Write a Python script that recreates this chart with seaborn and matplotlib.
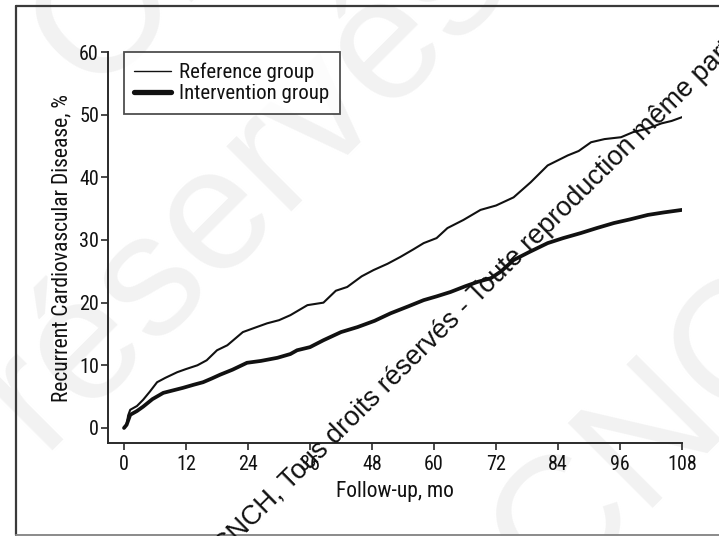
import matplotlib
matplotlib.use("Agg")
import matplotlib.pyplot as plt
import seaborn as sns
import pandas as pd
from matplotlib.lines import Line2D
from matplotlib import font_manager as fm

# ---- data ----
ref_months = [0, 0.5, 0.8, 1.2, 2.5, 3.7, 5, 6.4, 8, 10.3, 12, 14.2, 16, 18, 20, 23, 25,
              27.7, 30, 32.2, 35.5, 38.6, 41, 43.2, 46, 48.3, 51, 53.5, 56, 58, 60.5, 62.6,
              65.7, 69, 72, 75.4, 78.7, 82, 85.9, 88, 90.4, 93, 96.2, 98.5, 101.4, 104, 106, 108]
ref_values = [0, 0.5, 2.0, 2.9, 3.5, 4.5, 5.8, 7.3, 8.0, 8.9, 9.4, 10.0, 10.8, 12.4, 13.2, 15.3,
              15.9, 16.7, 17.2, 18.0, 19.6, 20.0, 21.9, 22.5, 24.2, 25.2, 26.2, 27.3, 28.5, 29.5,
              30.3, 31.9, 33.2, 34.8, 35.5, 36.8, 39.2, 41.9, 43.5, 44.2, 45.6, 46.1, 46.4, 47.2,
              47.8, 48.6, 49.0, 49.6]
int_months = [0, 0.5, 1.2, 2.5, 3.7, 5.5, 7.6, 9.5, 11.4, 13.5, 15.3, 17, 18.6, 21, 23.8, 26.5,
              29.7, 32.2, 33.5, 36, 38.6, 42, 45.2, 48.5, 51.6, 55, 58, 60.5, 63.2, 66, 68.4, 71,
              73, 75.4, 78.5, 82, 85, 88.4, 91.5, 94.8, 98, 101.4, 104.5, 108]
int_values = [0, 0.5, 2.1, 2.7, 3.4, 4.6, 5.6, 6.0, 6.4, 6.9, 7.3, 7.9, 8.5, 9.3, 10.4, 10.7,
              11.2, 11.8, 12.4, 12.9, 14.0, 15.3, 16.1, 17.1, 18.3, 19.4, 20.4, 21.0, 21.7, 22.6,
              23.3, 23.9, 25.0, 26.8, 28.1, 29.5, 30.3, 31.1, 31.9, 32.7, 33.3, 34.0, 34.4, 34.8]
group_labels = ["Reference group", "Intervention group"]
x_ticks = [0, 12, 24, 36, 48, 60, 72, 84, 96, 108]
y_ticks = [0, 10, 20, 30, 40, 50, 60]

sns.set_theme(style="white")

# pick a condensed sans-serif if one is installed
fonts = fm.fontManager.ttflist
names = {f.name for f in fonts}
stretch = "normal"
scale = 1.0
if "Liberation Sans Narrow" in names:
    fam = "Liberation Sans Narrow"
elif "Roboto Condensed" in names:
    fam = "Roboto Condensed"
elif any(f.name == "DejaVu Sans" and "ondensed" in f.fname for f in fonts):
    fam = "DejaVu Sans"
    stretch = "condensed"
    scale = 0.92
else:
    fam = "Liberation Sans"
    scale = 0.84
plt.rcParams['font.family'] = [fam, 'DejaVu Sans']
plt.rcParams['font.stretch'] = stretch

W, H = 719, 536
fig = plt.figure(figsize=(W / 100, H / 100), dpi=100)
fig.patch.set_facecolor("white")

def px(x0, y0, x1, y1):
    return [x0 / W, 1 - y1 / H, (x1 - x0) / W, (y1 - y0) / H]

# faint tiled background watermark
faint = dict(fontsize=125, color="#f2f2f2", family="Liberation Sans", stretch="normal",
             rotation=45, rotation_mode="anchor", ha="left", va="baseline", zorder=-5)
fig.text(-289 / W, 1 - 793 / H, "droits réservés", **faint)
fig.text(554 / W, 1 - 606 / H, "CNCH, Tous", **faint)
fig.text(91 / W, 1 - 95 / H, "CNCH", **faint)

ax = fig.add_axes(px(108, 52, 682, 443))
ax.set_facecolor("none")
ax.set_zorder(2)

df_ref = pd.DataFrame({"month": ref_months, "value": ref_values})
df_int = pd.DataFrame({"month": int_months, "value": int_values})
sns.lineplot(data=df_ref, x="month", y="value", ax=ax, color="#111111", lw=1.5,
             estimator=None, sort=False)
sns.lineplot(data=df_int, x="month", y="value", ax=ax, color="#111111", lw=2.7,
             estimator=None, sort=False)

ax.set_xlim(-3.1, 108)
ax.set_ylim(-2.4, 60)
ax.set_xticks(x_ticks)
ax.set_yticks(y_ticks)
ax.set_xticklabels([str(t) for t in x_ticks])
ax.set_yticklabels([str(t) for t in y_ticks])
for s in ["top", "right"]:
    ax.spines[s].set_visible(False)
for s in ["left", "bottom"]:
    ax.spines[s].set_color("#2a2a2a")
    ax.spines[s].set_linewidth(1.4)
ax.tick_params(axis="both", which="major", length=5, width=1.2, color="#2a2a2a",
               labelsize=14.5 * scale, labelcolor="#111111", direction="out")
ax.tick_params(axis="y", pad=1.5, left=True)
ax.tick_params(axis="x", pad=4, bottom=True)

ax.set_xlabel("Follow-up, mo", fontsize=15.5 * scale, color="#111111", va="center")
ax.set_ylabel("Recurrent Cardiovascular Disease, %", fontsize=15.5 * scale,
              color="#111111", va="center")
ax.xaxis.set_label_coords(0.5, (443 - 492) / 391)
ax.yaxis.set_label_coords((62 - 108) / 574, 0.5)

handles = [Line2D([], [], color="#111111", lw=1.0),
           Line2D([], [], color="#111111", lw=3.8)]
leg = ax.legend(handles, group_labels, loc="upper left", bbox_to_anchor=(0.028, 1.0),
                borderaxespad=0, frameon=True, fancybox=False, fontsize=15 * scale,
                handlelength=1.75, handletextpad=0.4, labelspacing=0.12,
                borderpad=0.5)
leg.get_frame().set_edgecolor("#222222")
leg.get_frame().set_linewidth(1.3)
for t in leg.get_texts():
    t.set_color("#111111")

# black diagonal watermark text
fig.text(224 / W, 1 - 556 / H, "CNCH, Tous droits réservés - Toute reproduction même partielle",
         fontsize=19.45, family="Liberation Sans", stretch="normal", color="#111111",
         rotation=44.7, rotation_mode="anchor", ha="left", va="baseline", zorder=10)

# outer frame
fig.add_artist(Line2D([16 / W, 16 / W], [1 - 535 / H, 1 - 6 / H], color="#3a3a3a", lw=1.6))
fig.add_artist(Line2D([16 / W, 1.0], [1 - 6 / H, 1 - 6 / H], color="#3a3a3a", lw=1.6))
fig.add_artist(Line2D([16 / W, 1.0], [1 - 535 / H, 1 - 535 / H], color="#8a8a8a", lw=1.4))

fig.savefig("out.png", dpi=100, facecolor="white")
